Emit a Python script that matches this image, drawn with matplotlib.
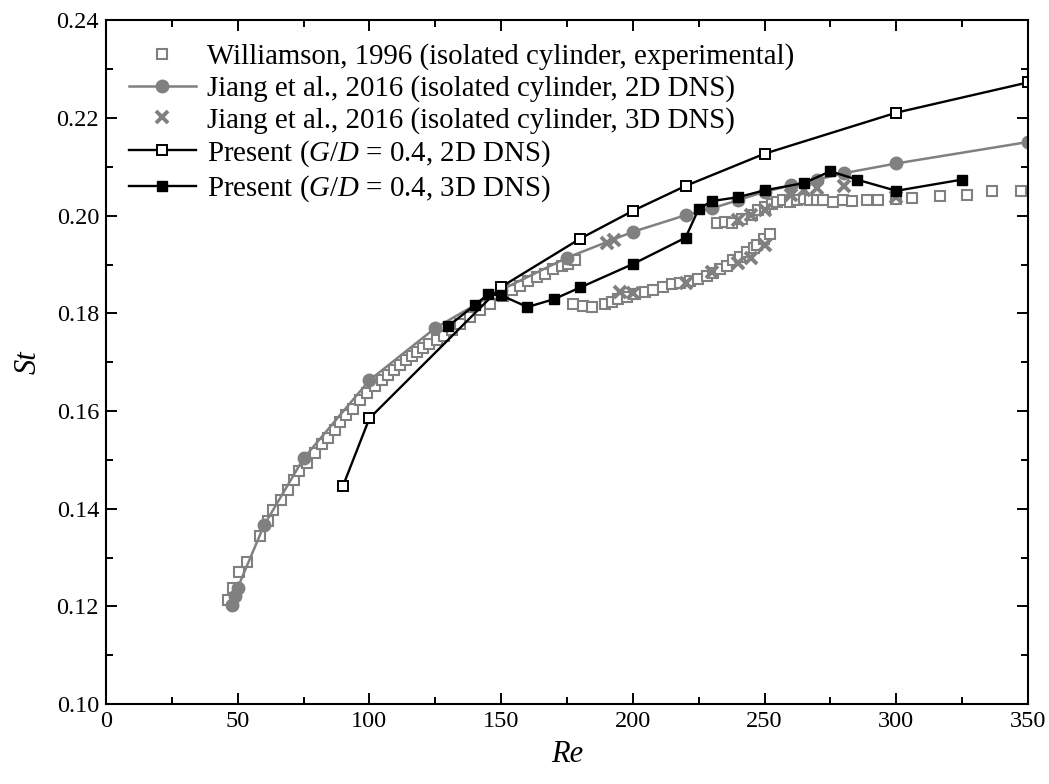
import numpy as np
import matplotlib.pyplot as plt
from matplotlib.ticker import MultipleLocator

# Williamson, 1996 (experimental)
re_w = [46.4, 48.3, 50.6, 53.4, 58.5, 61.4, 63.3, 66.3, 69.2, 71.4, 73.4, 76.4,
        79.3, 81.9, 84.4, 86.9, 88.8, 91.1, 93.7, 96.4, 99.2, 102.1, 104.7, 107.2,
        109.3, 111.6, 113.9, 116.0, 118.0, 120.3, 122.8, 125.5, 128.2, 131.2, 134.4,
        138.2, 142.0, 145.8, 150.8, 154.0, 157.2, 160.3, 163.5, 166.7, 169.8, 173.0,
        175.5, 178.0,
        177.4, 181.0, 184.4, 189.4, 192.0, 194.5, 197.7, 200.8, 204.6, 207.8, 211.6,
        214.8, 218.0, 221.7, 224.9, 228.0, 230.5, 233.1, 235.6, 238.2, 240.7, 243.2,
        245.8, 247.0, 249.6, 252.1,
        231.8, 235.0, 237.5, 241.3, 245.1, 247.6, 250.2, 252.7, 254.9, 257.1, 259.7,
        262.2, 265.0, 267.3, 269.8, 272.1, 276.1, 279.9, 283.1, 288.8, 293.2, 299.9,
        305.9, 316.6, 327.0, 336.3, 347.3]
st_w = [0.1214, 0.1237, 0.1270, 0.1291, 0.1344, 0.1375, 0.1397, 0.1417, 0.1439, 0.1458, 0.1477, 0.1493,
        0.1514, 0.1532, 0.1545, 0.1561, 0.1578, 0.1591, 0.1605, 0.1622, 0.1637, 0.1651, 0.1663, 0.1673,
        0.1685, 0.1694, 0.1704, 0.1712, 0.1721, 0.1729, 0.1737, 0.1745, 0.1754, 0.1766, 0.1779,
        0.1793, 0.1806, 0.1820, 0.1835, 0.1847, 0.1857, 0.1866, 0.1874, 0.1881, 0.1890, 0.1896,
        0.1902, 0.1909,
        0.1819, 0.1815, 0.1813, 0.1819, 0.1824, 0.1829, 0.1834, 0.1839, 0.1843, 0.1848, 0.1853,
        0.1860, 0.1862, 0.1866, 0.1871, 0.1877, 0.1883, 0.1891, 0.1898, 0.1909, 0.1915, 0.1926,
        0.1933, 0.1939, 0.1953, 0.1963,
        0.1985, 0.1987, 0.1985, 0.1994, 0.2001, 0.2011, 0.2018, 0.2023, 0.2028, 0.2032, 0.2029,
        0.2033, 0.2035, 0.2033, 0.2033, 0.2033, 0.2028, 0.2032, 0.2030, 0.2033, 0.2033, 0.2035,
        0.2037, 0.2040, 0.2042, 0.2051, 0.2051]

# Jiang et al., 2016 2D DNS
re_j2 = [48, 49, 50, 60, 75, 100, 125, 150, 175, 200, 220, 230, 240, 250, 260, 270, 280, 300, 350]
st_j2 = [0.1203, 0.1222, 0.1238, 0.1366, 0.1503, 0.1663, 0.1770, 0.1848, 0.1914, 0.1967,
         0.2001, 0.2015, 0.2032, 0.2049, 0.2062, 0.2074, 0.2087, 0.2107, 0.2151]

# Jiang et al., 2016 3D DNS
re_j3 = [190, 193, 195, 200, 220, 230, 240, 245, 250, 240, 245, 250, 260, 265, 270, 280, 300]
st_j3 = [0.1945, 0.1950, 0.1843, 0.1841, 0.1862, 0.1885, 0.1903, 0.1913, 0.1939,
         0.1991, 0.2001, 0.2011, 0.2042, 0.2052, 0.2057, 0.2060, 0.2038]

# Present, G/D = 0.4, 2D DNS
re_p2 = [90, 100, 150, 180, 200, 220, 250, 300, 350]
st_p2 = [0.1447, 0.1585, 0.1854, 0.1953, 0.2010, 0.2061, 0.2127, 0.2211, 0.2273]

# Present, G/D = 0.4, 3D DNS
re_p3 = [130, 140, 145, 150, 160, 170, 180, 200, 220, 225, 230, 240, 250, 265, 275, 285, 300, 325]
st_p3 = [0.1774, 0.1817, 0.1839, 0.1837, 0.1813, 0.1829, 0.1853, 0.1901, 0.1955, 0.2014,
         0.2030, 0.2038, 0.2052, 0.2067, 0.2091, 0.2074, 0.2051, 0.2074]

plt.rcParams['font.family'] = ['Liberation Serif', 'DejaVu Serif']
plt.rcParams['mathtext.fontset'] = 'custom'
plt.rcParams['mathtext.it'] = 'Liberation Serif:italic'
plt.rcParams['mathtext.rm'] = 'Liberation Serif'

grey = '#808080'

fig = plt.figure(figsize=(10.49, 7.84), dpi=100)
ax = fig.add_axes([0.101, 0.102, 0.879, 0.872])

ax.plot(re_w, st_w, ls='none', marker='s', ms=6.5, mfc='white', mec=grey, mew=1.5,
        label='Williamson, 1996 (isolated cylinder, experimental)')
ax.plot(re_j2, st_j2, color=grey, lw=1.8, marker='o', ms=9, mfc=grey, mec=grey,
        label='Jiang et al., 2016 (isolated cylinder, 2D DNS)')
ax.plot(re_j3, st_j3, ls='none', marker='x', ms=9, mec=grey, mew=2.8,
        label='Jiang et al., 2016 (isolated cylinder, 3D DNS)')
ax.plot(re_p2, st_p2, color='black', lw=1.7, marker='s', ms=6.5, mfc='white', mec='black', mew=1.4,
        label='Present ($G/D$ = 0.4, 2D DNS)')
ax.plot(re_p3, st_p3, color='black', lw=1.7, marker='s', ms=7.5, mfc='black', mec='black',
        label='Present ($G/D$ = 0.4, 3D DNS)')

ax.set_xlim(0, 350)
ax.set_ylim(0.10, 0.24)
ax.xaxis.set_major_locator(MultipleLocator(50))
ax.xaxis.set_minor_locator(MultipleLocator(25))
ax.yaxis.set_major_locator(MultipleLocator(0.02))
ax.yaxis.set_minor_locator(MultipleLocator(0.01))
ax.yaxis.set_major_formatter(plt.FormatStrFormatter('%.2f'))
ax.tick_params(which='both', direction='in', top=True, right=True, labelsize=17.5, width=1.4)
ax.tick_params(which='major', length=8, pad=5)
ax.tick_params(which='minor', length=5)
for s in ax.spines.values():
    s.set_linewidth(1.5)

ax.set_xlabel('Re', fontsize=22, style='italic', labelpad=6)
ax.set_ylabel('St', fontsize=22, style='italic', labelpad=10)

ax.legend(loc='upper left', frameon=False, fontsize=20.8, handlelength=2.3,
          labelspacing=0.16, borderaxespad=0.3, handletextpad=0.4, borderpad=0.5)

fig.savefig('out.png', dpi=100)
